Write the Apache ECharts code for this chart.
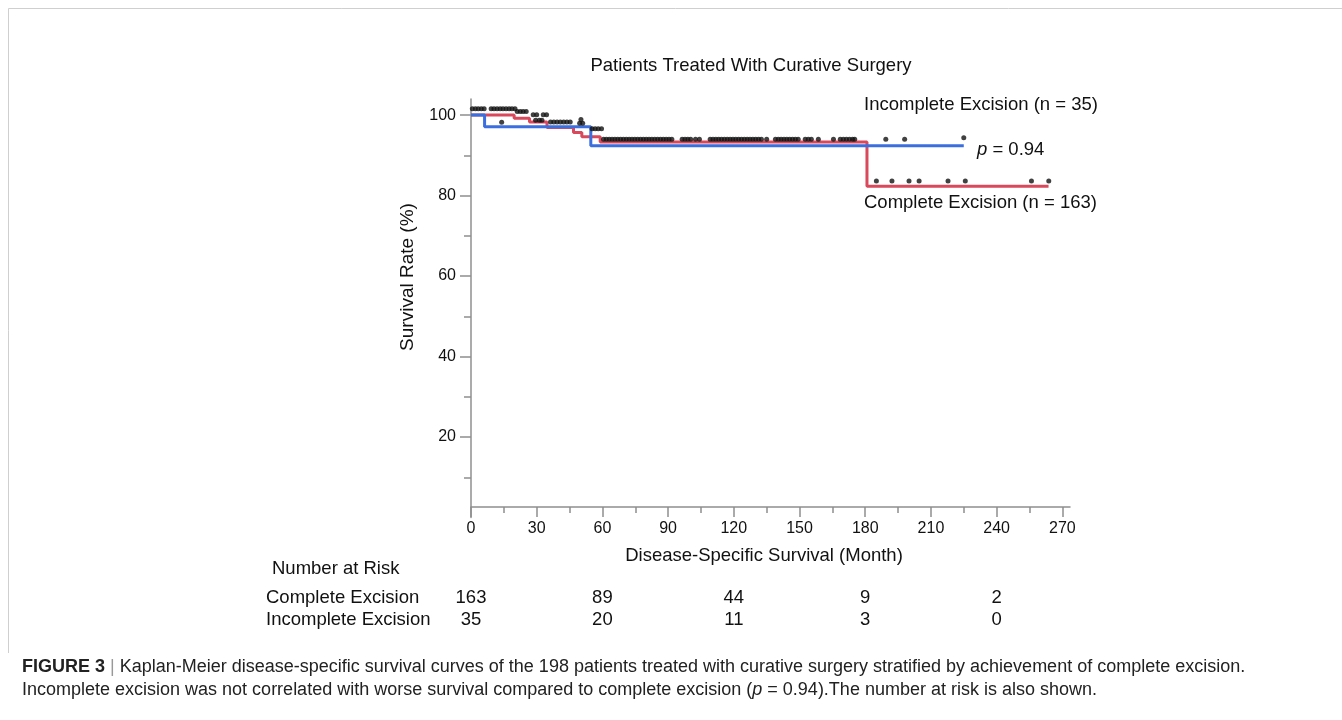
<!DOCTYPE html>
<html>
<head>
<meta charset="utf-8">
<script src="https://cdn.jsdelivr.net/npm/echarts@6/dist/echarts.min.js"></script>
<style>
  html, body { margin: 0; padding: 0; background: #fff; }
  #chart { width: 1342px; height: 720px; }
</style>
</head>
<body>
<div id="chart"></div>
<script>
// Kaplan-Meier steps (month, survival %)
var redTimes = [0, 19.7, 26.7, 34.7, 46.8, 50.6, 59, 180.8, 263.7];
var redSurv  = [100, 99.2, 98.3, 96.9, 95.7, 94.6, 93.3, 82.3, 82.3];
var blueTimes = [0, 6.2, 54.7, 225];
var blueSurv  = [100, 97.1, 92.4, 92.4];

// censor marks, drawn a little above the curves as in the figure
var censorMarks = [
  [0.6, 101.6], [2.0, 101.6], [3.3, 101.6], [4.7, 101.6], [6.0, 101.6],
  [9.2, 101.6], [10.5, 101.6], [11.9, 101.6], [13.3, 101.6], [14.6, 101.6],
  [16.0, 101.6], [17.4, 101.6], [18.7, 101.6], [20.1, 101.6],
  [21.1, 100.9], [22.5, 100.9], [23.8, 100.9], [25.2, 100.9],
  [28.4, 100.1], [30.0, 100.1], [33.0, 100.1], [34.5, 100.1],
  [29.5, 98.7], [31.2, 98.7], [32.4, 98.7],
  [14.0, 98.2],
  [36.3, 98.3], [37.8, 98.3], [39.3, 98.3], [40.8, 98.3], [42.3, 98.3], [43.8, 98.3], [45.3, 98.3],
  [49.6, 98.0], [50.2, 98.9], [51.0, 98.0],
  [55.3, 96.6], [56.7, 96.6], [58.1, 96.6], [59.6, 96.6],
  [60.5, 94.0], [61.8, 94.0], [63.1, 94.0], [64.4, 94.0], [65.7, 94.0], [67.0, 94.0],
  [68.3, 94.0], [69.6, 94.0], [70.9, 94.0], [72.2, 94.0], [73.5, 94.0], [74.8, 94.0],
  [76.1, 94.0], [77.4, 94.0], [78.7, 94.0], [80.0, 94.0], [81.3, 94.0], [82.6, 94.0],
  [83.9, 94.0], [85.2, 94.0], [86.5, 94.0], [87.8, 94.0], [89.1, 94.0], [90.4, 94.0], [91.7, 94.0],
  [96.4, 94.0], [97.7, 94.0], [99.0, 94.0], [100.3, 94.0],
  [102.5, 94.0], [104.3, 94.0],
  [109.2, 94.0], [110.5, 94.0], [111.8, 94.0], [113.1, 94.0], [114.4, 94.0], [115.7, 94.0],
  [117.0, 94.0], [118.3, 94.0], [119.6, 94.0], [120.9, 94.0], [122.2, 94.0], [123.5, 94.0],
  [124.8, 94.0], [126.1, 94.0], [127.4, 94.0], [128.7, 94.0], [130.0, 94.0], [131.3, 94.0], [132.6, 94.0],
  [135.0, 94.0],
  [139.0, 94.0], [140.3, 94.0], [141.6, 94.0], [142.9, 94.0], [144.2, 94.0], [145.5, 94.0],
  [146.8, 94.0], [148.1, 94.0], [149.4, 94.0],
  [152.6, 94.0], [154.0, 94.0], [155.4, 94.0],
  [158.6, 94.0], [165.5, 94.0],
  [168.6, 94.0], [170.0, 94.0], [171.4, 94.0], [172.8, 94.0], [174.2, 94.0], [175.2, 94.0],
  [189.4, 94.0], [198.0, 94.0], [225.0, 94.4],
  [185.1, 83.6], [192.2, 83.6], [200.0, 83.6], [204.6, 83.6],
  [217.8, 83.6], [225.7, 83.6], [255.9, 83.6], [263.8, 83.6]
];

var xTicks = [0, 30, 60, 90, 120, 150, 180, 210, 240, 270];
var xMinorTicks = [15, 45, 75, 105, 135, 165, 195, 225, 255];
var yTicks = [20, 40, 60, 80, 100];
var yMinorTicks = [10, 30, 50, 70, 90];

// number at risk
var riskMonths = [0, 60, 120, 180, 240];
var riskComplete = [163, 89, 44, 9, 2];
var riskIncomplete = [35, 20, 11, 3, 0];

var font = "'Liberation Sans', Arial, Helvetica, sans-serif";
var axisGrey = '#8f8f8f';
var red = '#d9485b';
var blue = '#3b6fe0';
var big = 18.5;

function zip(a, b) {
  return a.map(function (v, i) { return [v, b[i]]; });
}

var chart = echarts.init(document.getElementById('chart'));

var xBase = {
  type: 'value', min: 0, max: 273.5, position: 'bottom', offset: -10.5,
  splitLine: { show: false }
};
var yBase = {
  type: 'value', min: 0, max: 104, position: 'left',
  splitLine: { show: false }
};

chart.setOption({
  animation: false,
  grid: { left: 471, right: 272, top: 99, bottom: 202.5, outerBoundsMode: 'none' },
  xAxis: [
    Object.assign({}, xBase, {
      axisLine: { onZero: false, lineStyle: { color: axisGrey, width: 1.5 } },
      axisTick: { customValues: xTicks, length: 10, lineStyle: { color: axisGrey, width: 1.5 } },
      axisLabel: { customValues: xTicks, margin: 14, fontSize: 16, color: '#111', fontFamily: font }
    }),
    Object.assign({}, xBase, {
      axisLine: { show: false, onZero: false },
      axisTick: { customValues: xMinorTicks, length: 6, lineStyle: { color: axisGrey, width: 1.5 } },
      axisLabel: { show: false }
    })
  ],
  yAxis: [
    Object.assign({}, yBase, {
      axisLine: { onZero: false, lineStyle: { color: axisGrey, width: 1.5 } },
      axisTick: { customValues: yTicks, length: 11, lineStyle: { color: axisGrey, width: 1.5 } },
      axisLabel: { customValues: yTicks, margin: 15, fontSize: 16, color: '#111', fontFamily: font }
    }),
    Object.assign({}, yBase, {
      axisLine: { show: false, onZero: false },
      axisTick: { customValues: yMinorTicks, length: 7, lineStyle: { color: axisGrey, width: 1.5 } },
      axisLabel: { show: false }
    })
  ],
  series: [
    {
      name: 'Complete Excision', type: 'line', step: 'end', symbol: 'none', clip: false, z: 2,
      data: zip(redTimes, redSurv), lineStyle: { color: red, width: 3 }
    },
    {
      name: 'Incomplete Excision', type: 'line', step: 'end', symbol: 'none', clip: false, z: 3,
      data: zip(blueTimes, blueSurv), lineStyle: { color: blue, width: 3 }
    },
    {
      name: 'Censored', type: 'scatter', symbol: 'circle', symbolSize: 5, clip: false, z: 4,
      data: censorMarks, itemStyle: { color: '#111' }
    }
  ]
});

function txt(x, y, text, size, extra) {
  return {
    type: 'text', x: x, y: y, silent: true,
    style: Object.assign({
      text: text, fontSize: size, fontFamily: font, fill: '#111',
      align: 'left', verticalAlign: 'middle'
    }, extra || {})
  };
}

var graphics = [
  // light frame of the figure
  { type: 'polyline', silent: true, shape: { points: [[8.5, 653], [8.5, 8.5], [1342, 8.5]] },
    style: { stroke: '#cfcfcf', lineWidth: 1, fill: null } },
  txt(751, 66, 'Patients Treated With Curative Surgery', big, { align: 'center' }),
  txt(864, 105, 'Incomplete Excision (n = 35)', big),
  txt(977, 150, '{i|p} = 0.94', big, { rich: { i: { fontStyle: 'italic', fontSize: big, fontFamily: font, fill: '#111' } } }),
  txt(864, 203, 'Complete Excision (n = 163)', big),
  { type: 'text', x: 408, y: 277, rotation: Math.PI / 2, silent: true,
    style: { text: 'Survival Rate (%)', fontSize: 19, fontFamily: font, fill: '#111', align: 'center', verticalAlign: 'middle' } },
  txt(764, 556, 'Disease-Specific Survival (Month)', big, { align: 'center' }),
  txt(272, 569, 'Number at Risk', big),
  txt(266, 598, 'Complete Excision', big),
  txt(266, 620, 'Incomplete Excision', big),
  txt(22, 667, '{b|FIGURE 3} {s||} Kaplan-Meier disease-specific survival curves of the 198 patients treated with curative surgery stratified by achievement of complete excision.', 18,
    { fill: '#222', rich: { b: { fontWeight: 'bold', fontSize: 18, fontFamily: font, fill: '#222' }, s: { fontSize: 18, fontFamily: font, fill: '#999' } } }),
  txt(22, 690, 'Incomplete excision was not correlated with worse survival compared to complete excision ({i|p} = 0.94).The number at risk is also shown.', 18,
    { fill: '#222', rich: { i: { fontStyle: 'italic', fontSize: 18, fontFamily: font, fill: '#222' } } })
];

riskMonths.forEach(function (m, i) {
  var px = chart.convertToPixel({ xAxisIndex: 0 }, m);
  graphics.push(txt(px, 598, String(riskComplete[i]), big, { align: 'center' }));
  graphics.push(txt(px, 620, String(riskIncomplete[i]), big, { align: 'center' }));
});

chart.setOption({ graphic: graphics });
</script>
</body>
</html>
